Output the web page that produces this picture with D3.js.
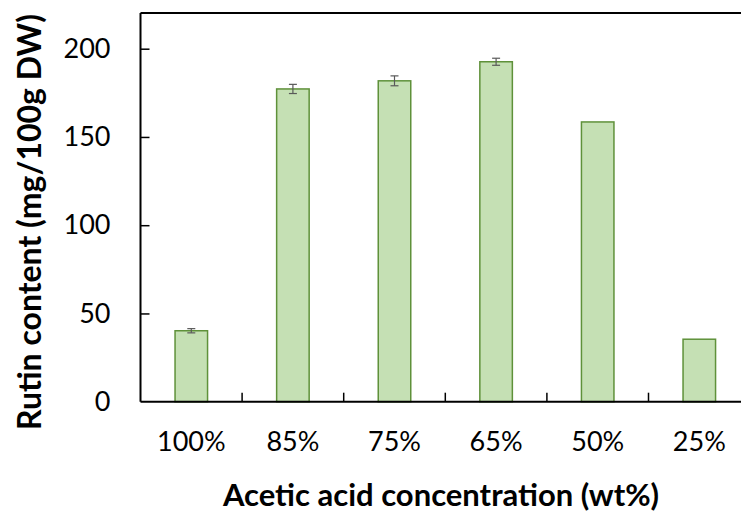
<!DOCTYPE html>
<html>
<head>
<meta charset="utf-8">
<script src="https://cdn.jsdelivr.net/npm/d3@7"></script>
<style>
  html, body { margin: 0; padding: 0; background: #fff; }
  svg { display: block; }
  text { font-family: Lato, "Open Sans", "DejaVu Sans", sans-serif; }
</style>
</head>
<body>
<svg id="chart" width="741" height="513"></svg>
<script>
// Rutin content by acetic acid concentration
const categories = ["100%", "85%", "75%", "65%", "50%", "25%"];
const rutin = [40.2, 177.2, 181.8, 192.6, 158.5, 35.4];
const errors = [1.2, 2.6, 2.8, 2.0, 0, 0];
const yTicks = [0, 50, 100, 150, 200];

const svg = d3.select("#chart");
const plotLeft = 140.5, plotTop = 13, plotBottom = 401.7;
const bandW = 101.6;
const plotRight = plotLeft + bandW * categories.length;

const x = d3.scaleBand().domain(categories).range([plotLeft, plotRight]).paddingInner(0.68).paddingOuter(0.34);
const y = d3.scaleLinear().domain([0, 200]).range([plotBottom, 48.7]);

// frame: top line
svg.append("line").attr("x1", plotLeft).attr("x2", plotRight).attr("y1", plotTop).attr("y2", plotTop)
  .attr("stroke", "#000").attr("stroke-width", 2);

// bars
svg.append("g").selectAll("rect").data(rutin).join("rect")
  .attr("x", (d, i) => x(categories[i]))
  .attr("y", d => y(d))
  .attr("width", x.bandwidth())
  .attr("height", d => y(0) - y(d))
  .attr("fill", "#c5e0b4")
  .attr("stroke", "#5f913a")
  .attr("stroke-width", 1.5);

// error bars
const eb = svg.append("g").attr("stroke", "#595959").attr("stroke-width", 1.2);
rutin.forEach((v, i) => {
  if (!errors[i]) return;
  const cx = x(categories[i]) + x.bandwidth() / 2;
  const y1 = y(v + errors[i]), y2 = y(v - errors[i]);
  eb.append("line").attr("x1", cx).attr("x2", cx).attr("y1", y1).attr("y2", y2);
  eb.append("line").attr("x1", cx - 4).attr("x2", cx + 4).attr("y1", y1).attr("y2", y1);
  eb.append("line").attr("x1", cx - 4).attr("x2", cx + 4).attr("y1", y2).attr("y2", y2);
});

// y axis with inward ticks
const yAxis = svg.append("g").attr("transform", `translate(${plotLeft},0)`)
  .call(d3.axisLeft(y).tickValues(yTicks).tickSize(-9).tickPadding(30));
yAxis.select(".domain").attr("d", `M0,${plotTop}V${plotBottom}`).attr("stroke", "#000").attr("stroke-width", 2);
yAxis.selectAll(".tick line").attr("stroke", "#000").attr("stroke-width", 1.5);
yAxis.selectAll(".tick text").attr("font-size", 27).attr("fill", "#000");
yAxis.select(".tick line").remove();

// x axis with inward separators between categories
const xAxis = svg.append("g").attr("transform", `translate(0,${plotBottom})`)
  .call(d3.axisBottom(x).tickSize(0).tickPadding(30));
xAxis.select(".domain").attr("d", `M${plotLeft},0H${plotRight}`).attr("stroke", "#000").attr("stroke-width", 2);
xAxis.selectAll(".tick text").attr("font-size", 27).attr("fill", "#000");
const seps = d3.range(1, categories.length).map(i => plotLeft + i * bandW);
svg.append("g").selectAll("line").data(seps).join("line")
  .attr("x1", d => d).attr("x2", d => d)
  .attr("y1", plotBottom - 9).attr("y2", plotBottom)
  .attr("stroke", "#000").attr("stroke-width", 1.5);

// axis titles
svg.append("text").attr("x", 441).attr("y", 506).attr("text-anchor", "middle")
  .attr("font-size", 31).attr("font-weight", "bold").text("Acetic acid concentration (wt%)");
svg.append("text").attr("transform", "translate(41,222) rotate(-90)").attr("text-anchor", "middle")
  .attr("font-size", 32).attr("font-weight", "bold").text("Rutin content (mg/100g DW)");
</script>
</body>
</html>
